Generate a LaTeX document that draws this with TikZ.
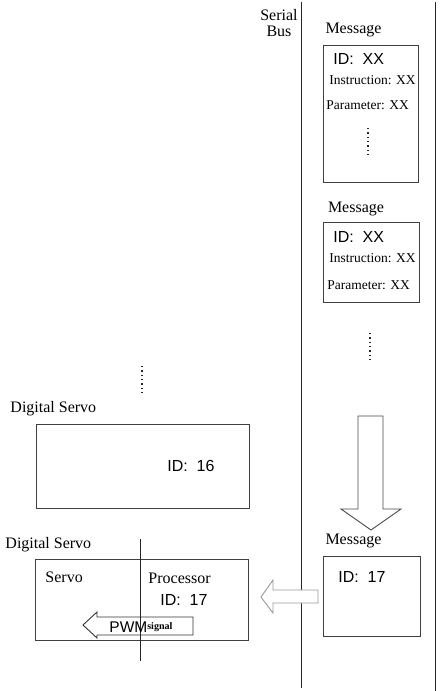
\documentclass[tikz,border=0pt]{standalone}
\usepackage{fontspec}
\setmainfont{Liberation Serif}
\newfontfamily\arialf{Liberation Sans}
\begin{document}
\begin{tikzpicture}[x=1pt,y=-1pt,
  line width=0.9pt,
  boxst/.style={draw=black!75},
  serif/.style={inner sep=0pt,font=\fontsize{16}{18}\selectfont},
  small/.style={inner sep=0pt,font=\fontsize{13.5}{15}\selectfont},
  sans/.style={inner sep=0pt,font=\arialf\fontsize{16}{18}\selectfont},
  dotsline/.style={line width=1.3pt,dash pattern=on 1.3pt off 3pt,black!85},
  bus/.style={draw=black!85,line width=1pt}]
\useasboundingbox (0,0) rectangle (442,691);
\fill[white] (0,0) rectangle (442,691);

% bus lines
\coordinate (busTop) at (301,2);
\coordinate (busBot) at (301,688);
\coordinate (rTop) at (435.5,2);
\coordinate (rBot) at (435.5,691);
\draw[bus] (busTop) -- (busBot);
\draw[bus] (rTop) -- (rBot);
\node[serif,align=center] (serialbus) at (279,23) {Serial\\[-2pt]Bus};

% message 1
\node[serif] (msg1) at (353.5,30) {Message};
\draw[boxst] (323,45) rectangle (418,182);
\node[sans,anchor=west] (id1) at (333,59) {ID:\hspace{0.55em}XX};
\node[small,anchor=west] (ins1) at (329,80) {Instruction: XX};
\node[small,anchor=west] (par1) at (326,105) {Parameter: XX};
\coordinate (d1a) at (368,128);
\coordinate (d1b) at (368,156);
\draw[dotsline] (d1a) -- (d1b);

% message 2
\node[serif] (msg2) at (356,209) {Message};
\draw[boxst] (323,222) rectangle (419,302);
\node[sans,anchor=west] (id2) at (333,237) {ID:\hspace{0.55em}XX};
\node[small,anchor=west] (ins2) at (329,258) {Instruction: XX};
\node[small,anchor=west] (par2) at (327,285) {Parameter: XX};
\coordinate (d2a) at (370,333);
\coordinate (d2b) at (370,361);
\draw[dotsline] (d2a) -- (d2b);

% dots left
\coordinate (d3a) at (142,366);
\coordinate (d3b) at (142,394);
\draw[dotsline] (d3a) -- (d3b);

% servo 16
\node[serif,anchor=west] (ds1) at (10,409) {Digital Servo};
\draw[boxst] (36,424) rectangle (249,508);
\node[sans,anchor=west] (id16) at (167,466) {ID:\hspace{0.55em}16};

% big down arrow
\draw[draw=black!70,fill=white,line width=0.9pt,line join=miter]
  (358,416) -- (383,416) -- (383,509) -- (401,509) -- (371,530) -- (341,509) -- (358,509) -- cycle;

% message 3
\node[serif] (msg3) at (353.5,541) {Message};
\draw[boxst] (323,556) rectangle (420,636);
\node[sans,anchor=west] (id3) at (338,577) {ID:\hspace{0.55em}17};

% left hollow arrow
\draw[draw=black!40,fill=white,line width=0.9pt]
  (318,590) -- (273,590) -- (273,580) -- (261,597) -- (273,613) -- (273,603) -- (318,603) -- cycle;

% servo 17
\node[serif,anchor=west] (ds2) at (5,545) {Digital Servo};
\draw[boxst] (35,559) rectangle (248,640);
\node[serif,anchor=west] (servo) at (45,577) {Servo};
\node[serif,anchor=west] (proc) at (148,578) {Processor};
\node[sans,anchor=west] (id17) at (160,600) {ID:\hspace{0.55em}17};

% PWM arrow
\draw[draw=black!80,fill=white,line width=0.9pt]
  (193,617) -- (97,617) -- (97,612) -- (83,625) -- (97,638) -- (97,635) -- (193,635) -- cycle;
\coordinate (vtop) at (140,539);
\coordinate (vbot) at (140,661);
\draw[draw=black!85,line width=1pt] (vtop) -- (vbot);
\node[inner sep=0pt,anchor=base west] (pwm) at (109,632)
  {{\arialf\fontsize{15.5}{18}\selectfont PWM}\raisebox{2.5pt}{\bfseries\fontsize{10}{12}\selectfont signal}};
\end{tikzpicture}
\end{document}
